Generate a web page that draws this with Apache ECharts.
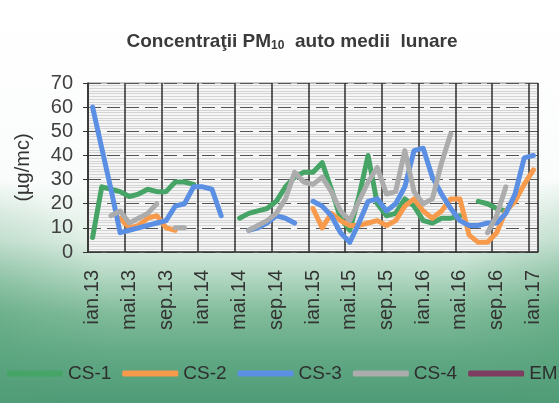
<!DOCTYPE html>
<html>
<head>
<meta charset="utf-8">
<script src="https://cdn.jsdelivr.net/npm/echarts@6/dist/echarts.min.js"></script>
<style>
  html, body { margin: 0; padding: 0; }
  #chart { width: 559px; height: 403px; }
</style>
</head>
<body>
<div id="chart"></div>
<script>
// luni ian.13 .. ian.17
const months = [
  "ian.13", "feb.13", "mar.13", "apr.13", "mai.13", "iun.13", "iul.13", "aug.13", "sep.13", "oct.13", "noi.13", "dec.13",
  "ian.14", "feb.14", "mar.14", "apr.14", "mai.14", "iun.14", "iul.14", "aug.14", "sep.14", "oct.14", "noi.14", "dec.14",
  "ian.15", "feb.15", "mar.15", "apr.15", "mai.15", "iun.15", "iul.15", "aug.15", "sep.15", "oct.15", "noi.15", "dec.15",
  "ian.16", "feb.16", "mar.16", "apr.16", "mai.16", "iun.16", "iul.16", "aug.16", "sep.16", "oct.16", "noi.16", "dec.16",
  "ian.17"
];
const tickLabels = ["ian.13", "mai.13", "sep.13", "ian.14", "mai.14", "sep.14", "ian.15", "mai.15", "sep.15", "ian.16", "mai.16", "sep.16", "ian.17"];
const yTicks = [0, 10, 20, 30, 40, 50, 60, 70];

const cs1 = [6, 27, 26, 25, 23, 24, 26, 25, 25, 29, 29, 28, null, null, null, null,
  14, 16, 17, 18, 21, 27, 31, 33, 33, 37, 26, 14, 9, 23, 40, 20, 15, 16, 22, 19,
  13, 12, 14, 14, 15, null, 21, 20, 18, 17, null, null, null];
const cs2 = [null, null, null, 14, 10, 11, 14, 15, 10, 9, null, null, null, null, null, null,
  null, null, null, null, null, null, null, null, 18, 10, 16, 13, 11, 11, 12, 13, 11, 13, 19, 22,
  17, 14, 17, 22, 22, 7, 4, 4, 8, 17, 21, 28, 34];
const cs3 = [60, 43, 26, 8, 9, 10, 11, 12, 13, 19, 20, 27, 27, 26, 15, null,
  null, 9, 10, 12, 15, 14, 12, null, 21, 19, 15, 8, 4, 12, 21, 22, 17, 20, 27, 42,
  43, 31, 24, 18, 13, 11, 11, 12, 12, 16, 24, 39, 40];
const cs4 = [null, null, 15, 17, 12, 14, 16, 20, null, 10, 10, null, null, null, null, null,
  null, 9, 11, 13, 16, 22, 33, 29, 28, 31, 25, 17, 13, 21, 29, 35, 24, 25, 42, 25,
  20, 22, 37, 49, null, null, null, 8, 15, 27, null, null, null];
const em = [];

const names = ["CS-1", "CS-2", "CS-3", "CS-4", "EM"];
const colors = ["#45a466", "#f79a4c", "#5b8fe3", "#acacac", "#7d3c60"];
const values = [cs1, cs2, cs3, cs4, em];

let chart = echarts.init(document.getElementById("chart"));

// umbra verde pe margini (colturile de jos)
const edgeGlow = (cx) => ({
  type: "rect",
  z: -10,
  silent: true,
  shape: { x: cx - 150, y: 170, width: 300, height: 300 },
  style: {
    fill: new echarts.graphic.RadialGradient(0.5, 0.5, 0.5, [
      { offset: 0, color: "rgba(80,160,118,0.55)" },
      { offset: 0.55, color: "rgba(80,160,118,0.22)" },
      { offset: 1, color: "rgba(80,160,118,0)" },
    ]),
  },
});

chart.setOption({
  animation: false,
  backgroundColor: new echarts.graphic.LinearGradient(0, 0, 0, 1, [
    { offset: 0, color: "#ffffff" },
    { offset: 0.45, color: "#fafcfb" },
    { offset: 0.6, color: "#deeee4" },
    { offset: 0.69, color: "#b0d6c0" },
    { offset: 0.78, color: "#80bb9a" },
    { offset: 0.88, color: "#62a985" },
    { offset: 1, color: "#4f9b77" },
  ]),
  color: colors,
  graphic: [edgeGlow(-40), edgeGlow(600)],
  title: {
    text: "{a|Concentraţii PM}{s|10}{a|  auto medii  lunare}",
    left: 287,
    textAlign: "center",
    top: 26,
    textStyle: {
      rich: {
        a: { fontFamily: "Liberation Sans", fontSize: 19, fontWeight: "bold", color: "#3a3a3a" },
        s: { fontFamily: "Liberation Sans", fontSize: 12, fontWeight: "bold", color: "#3a3a3a", verticalAlign: "bottom", padding: [9, 0, 0, 0] },
      },
    },
  },
  legend: {
    left: 2,
    top: 359,
    width: 700,
    itemWidth: 56,
    itemHeight: 6,
    itemGap: 11,
    icon: "roundRect",
    data: names,
    textStyle: { fontFamily: "Liberation Sans", fontSize: 19, color: "#2e2e2e" },
  },
  grid: {
    left: 88,
    right: 21,
    top: 83,
    bottom: 151,
    show: true,
    backgroundColor: "#f5f5f5",
    borderColor: "#8a8a8a",
    borderWidth: 1,
  },
  xAxis: {
    type: "category",
    data: months,
    boundaryGap: true,
    axisLine: { lineStyle: { color: "#333", width: 1.5 } },
    axisTick: { interval: 3, length: 8, lineStyle: { color: "#333", width: 1.5 } },
    axisLabel: {
      interval: 3,
      rotate: 90,
      margin: 18,
      fontFamily: "Liberation Sans",
      fontSize: 20,
      color: "#333",
    },
    splitLine: { show: true, interval: 3, lineStyle: { color: "#2e2e2e", width: 1.5 } },
  },
  yAxis: {
    type: "value",
    min: 0,
    max: 70,
    interval: 10,
    name: "(µg/mc)",
    nameLocation: "middle",
    nameGap: 55,
    nameTextStyle: { fontFamily: "Liberation Sans", fontSize: 20, color: "#333" },
    axisLine: { show: true, lineStyle: { color: "#333", width: 1.5 } },
    axisTick: { show: true, length: 5, lineStyle: { color: "#333" } },
    axisLabel: {
      fontFamily: "Liberation Sans",
      fontSize: 20,
      color: "#404040",
      margin: 15,
      formatter: (v) => (yTicks.indexOf(v) >= 0 ? String(v) : ""),
    },
    splitLine: { lineStyle: { color: "#555", width: 1, type: [13, 6] } },
    minorTick: { show: false, splitNumber: 9 },
    minorSplitLine: { show: true, lineStyle: { color: "#d4d4d4", width: 1 } },
  },
  series: names.map((n, k) => ({
    name: n,
    type: "line",
    data: values[k],
    showSymbol: false,
    symbol: "none",
    connectNulls: false,
    lineStyle: { width: 5, color: colors[k], cap: "round", join: "round" },
    itemStyle: { color: colors[k] },
  })),
});
</script>
</body>
</html>
